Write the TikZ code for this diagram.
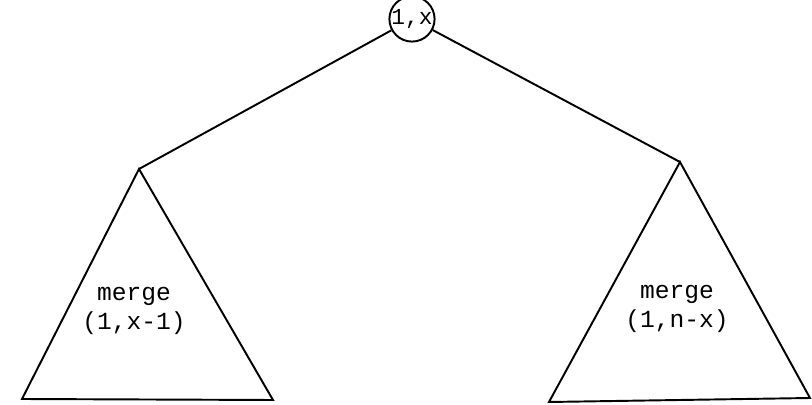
\documentclass[tikz,border=0pt]{standalone}
\usepackage{fontspec}
\setmonofont{Liberation Mono}
\usepackage{tikz}
\usetikzlibrary{positioning, calc}

\begin{document}
\begin{tikzpicture}[
  x=0.02cm, y=-0.02cm,
  font=\ttfamily\fontsize{14}{17}\selectfont,
  edge/.style={line width=1.1pt},
  root/.style={
    circle,
    draw,
    line width=1.1pt,
    minimum size=0.82cm,
    inner sep=0pt,
    font=\ttfamily\fontsize{13}{15}\selectfont,
  },
  label/.style={align=center, inner sep=1pt},
]
\useasboundingbox (0,0) rectangle (812,405);
% --- root ---
\node[root] (Root) at (412,19) {1,x};

% --- left subtree ---
\coordinate (LeftTop) at (139,169);
\coordinate (LeftBL) at (22,399);
\coordinate (LeftBR) at (273,400);
\draw[edge] (LeftTop) -- (LeftBL) -- (LeftBR) -- cycle;
\node[label] (LeftText) at (134,311) {merge\\(1,x-1)};

% --- right subtree ---
\coordinate (RightTop) at (680,162);
\coordinate (RightBL) at (549,402);
\coordinate (RightBR) at (810,398);
\draw[edge] (RightTop) -- (RightBL) -- (RightBR) -- cycle;
\node[label] (RightText) at (677,309) {merge\\(1,n-x)};

% edges from the root to the two subtrees
\draw[edge] (Root) -- (LeftTop);
\draw[edge] (Root) -- (RightTop);
\end{tikzpicture}
\end{document}
